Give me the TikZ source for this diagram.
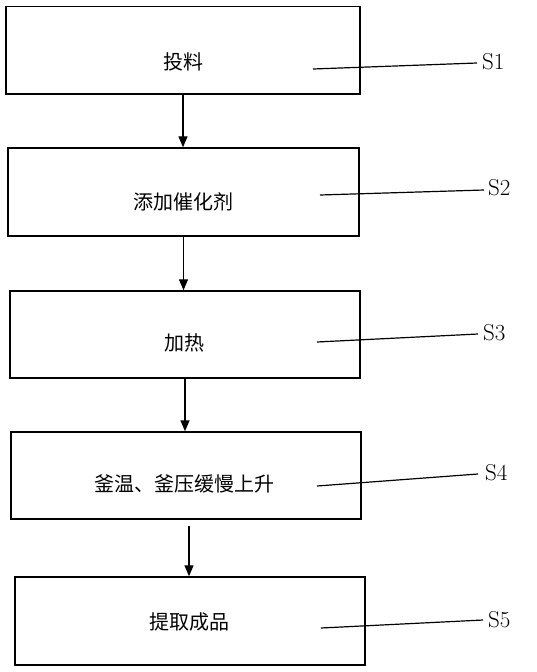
\documentclass[tikz,border=0pt]{standalone}
\usepackage{fontspec}
\newfontfamily\cjk{Noto Sans CJK SC}
\usetikzlibrary{arrows.meta}
\begin{document}
\begin{tikzpicture}[x=1pt,y=-1pt,
  stepbox/.style={draw,line width=1.4pt,inner sep=0pt},
  steptext/.style={font=\cjk\fontsize{20}{20}\selectfont,inner sep=0pt},
  flow/.style={line width=1.2pt,-{Triangle[length=11pt,width=9pt]}},
  leader/.style={line width=1.2pt},
  tag/.style={font=\fontsize{23}{23}\selectfont,anchor=west,inner sep=0pt}]
\useasboundingbox (0,0) rectangle (536,672);
\node[stepbox,minimum width=354pt,minimum height=87.5pt] (B1) at (183,50.25) {};
\node[stepbox,minimum width=351pt,minimum height=88pt] (B2) at (183.5,192) {};
\node[stepbox,minimum width=350pt,minimum height=87pt] (B3) at (185,334.5) {};
\node[stepbox,minimum width=350pt,minimum height=87pt] (B4) at (186,475.5) {};
\node[stepbox,minimum width=350pt,minimum height=88pt] (B5) at (190,621) {};
\node[steptext] (T1) at (183,62) {投料};
\node[steptext] (T2) at (183,202) {添加催化剂};
\node[steptext] (T3) at (184,343) {加热};
\node[steptext] (T4) at (184.5,484) {釜温、釜压缓慢上升};
\node[steptext] (T5) at (189,622) {提取成品};
\node[tag] (S1) at (482,62) {S1};
\node[tag] (S2) at (488,188) {S2};
\node[tag] (S3) at (483,333) {S3};
\node[tag] (S4) at (485,473) {S4};
\node[tag] (S5) at (488,620) {S5};
\coordinate (L1) at (313,69);
\coordinate (L2) at (320,195);
\coordinate (L3) at (317,342);
\coordinate (L4) at (317,486);
\coordinate (L5) at (321,628);
\draw[leader] (L1) -- ([xshift=-5pt,yshift=-1pt]S1.west);
\draw[leader] (L2) -- ([xshift=-4pt,yshift=-2pt]S2.west);
\draw[leader] (L3) -- ([xshift=-5pt,yshift=-1pt]S3.west);
\draw[leader] (L4) -- ([xshift=-7pt,yshift=-1pt]S4.west);
\draw[leader] (L5) -- ([xshift=-5pt]S5.west);
\draw[flow] (B1.south) -- (B1.south |- B2.north);
\draw[flow] (B2.south) -- (B2.south |- B3.north);
\draw[flow] (B3.south) -- (B3.south |- B4.north);
\draw[flow] ([xshift=3pt,yshift=-6pt]B4.south) -- ([xshift=3pt]B4.south |- B5.north);
\end{tikzpicture}
\end{document}
